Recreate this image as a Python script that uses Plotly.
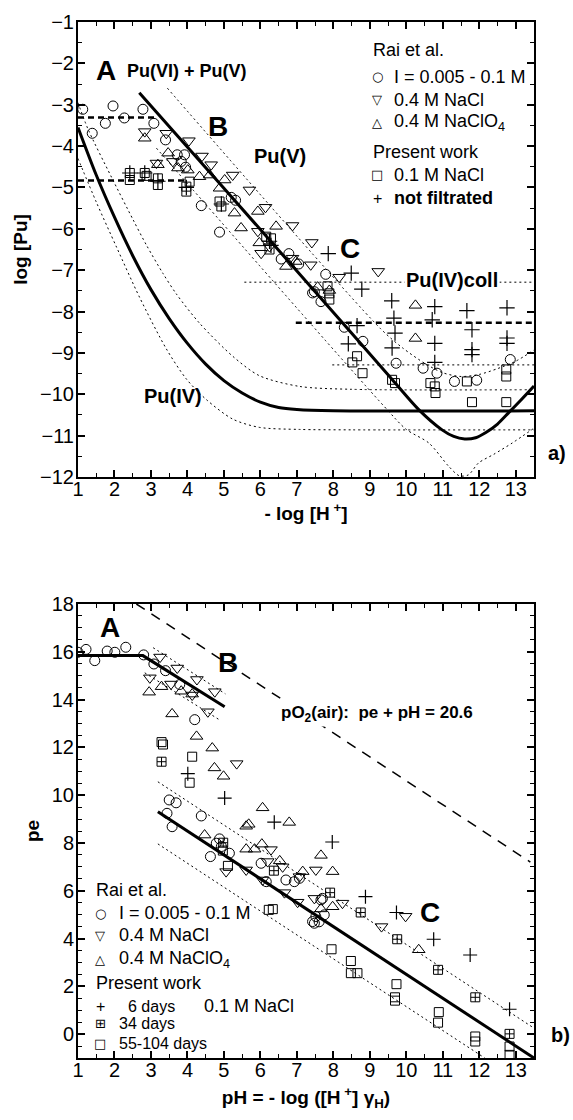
import plotly.graph_objects as go

FONT = "Arial, Liberation Sans, sans-serif"
SYMF = "DejaVu Sans"

# ---------------- panel a) : log[Pu] vs -log[H+] ----------------
a_circ_x = [1.13, 1.39, 1.75, 1.96, 2.27, 2.78, 3.08, 3.40, 3.72, 3.92, 3.83, 3.95, 4.38, 4.88, 5.20, 5.32,
            6.57, 6.78, 7.05, 7.43, 7.48, 7.66, 7.79, 8.30, 8.81, 9.72, 10.46, 10.84, 11.32, 11.93, 12.85]
a_circ_y = [-3.11, -3.69, -3.45, -3.03, -3.32, -3.11, -3.45, -3.85, -4.21, -4.21, -4.37, -4.51, -5.44, -6.08, -5.24, -5.31,
            -6.73, -6.60, -6.85, -7.55, -7.52, -7.76, -7.10, -8.38, -8.72, -9.25, -9.37, -9.49, -9.69, -9.66, -9.16]

a_tdn_x = [2.83, 3.15, 3.42, 3.60, 4.04, 4.40, 4.65, 5.24, 5.70, 5.93, 6.02, 6.14, 6.25, 6.88, 6.88, 7.41, 7.38, 8.16, 9.23]
a_tdn_y = [-3.65, -4.41, -3.69, -4.37, -3.87, -4.24, -4.45, -4.70, -5.06, -6.06, -6.59, -5.48, -6.43, -5.92, -6.71, -6.33, -6.87, -7.17, -7.03]

a_tup_x = [2.83, 3.19, 3.47, 3.74, 4.01, 4.33, 4.61, 4.88, 5.02, 5.29, 5.47, 5.93, 5.97, 6.43, 6.70, 6.97, 7.57, 7.89, 10.25, 10.25]
a_tup_y = [-3.81, -4.45, -4.17, -4.53, -4.58, -4.74, -4.70, -5.02, -4.82, -5.62, -5.98, -5.58, -6.34, -5.94, -6.91, -6.79, -7.41, -7.49, -7.85, -8.65]

a_sq_x = [2.42, 2.42, 2.83, 2.88, 3.19, 3.19, 3.97, 3.97, 4.06, 4.88, 4.93, 6.16, 6.29, 6.25, 7.84, 7.89, 7.89,
          8.52, 8.65, 8.80, 9.61, 9.69, 10.66, 10.78, 10.80, 11.66, 11.80, 12.74, 12.74, 12.74]
a_sq_y = [-4.65, -4.82, -4.65, -4.72, -4.78, -4.94, -4.98, -5.10, -4.86, -5.34, -5.46, -6.19, -6.23, -6.50, -7.39, -7.56, -7.71,
          -9.23, -9.08, -9.49, -9.65, -9.73, -9.73, -9.81, -9.97, -9.69, -10.19, -9.40, -9.57, -10.19]

a_plus_x = [2.42, 2.83, 3.19, 3.97, 4.93, 6.25, 6.29, 7.86, 8.49, 8.78, 8.41, 8.65, 9.60, 9.66, 9.69, 9.61,
            10.71, 10.78, 10.78, 10.78, 11.66, 11.80, 11.80, 11.80, 12.76, 12.76, 12.76]
a_plus_y = [-4.65, -4.65, -4.85, -5.00, -5.40, -6.30, -6.40, -6.60, -7.07, -7.46, -8.78, -8.34, -7.74, -8.16, -8.52, -8.88,
            -8.20, -7.88, -8.77, -9.23, -7.98, -8.44, -8.92, -9.04, -7.91, -8.64, -8.77]

# model curves
a_piv_x = [1.0, 1.5, 2.0, 2.5, 3.0, 3.5, 4.0, 4.5, 5.0, 5.5, 6.0, 6.5, 7.0, 8.0, 13.5]
a_piv_y = [-3.55, -4.70, -5.72, -6.65, -7.47, -8.17, -8.77, -9.27, -9.67, -9.97, -10.19, -10.32, -10.37, -10.40, -10.40]
a_pivu_x = [1.0, 1.28, 1.9, 2.51, 2.88, 3.33, 3.70, 4.33, 5.24, 5.97, 7.07, 8.5, 13.5]
a_pivu_y = [-2.95, -3.60, -4.72, -5.78, -6.40, -7.08, -7.58, -8.28, -9.08, -9.55, -9.81, -9.88, -9.89]
a_pivl_x = [1.0, 1.5, 2.06, 2.69, 3.42, 3.97, 4.52, 5.24, 5.97, 7.07, 8.5, 13.5]
a_pivl_y = [-4.30, -5.35, -6.45, -7.66, -8.90, -9.63, -10.13, -10.60, -10.80, -10.85, -10.86, -10.86]

a_pv_x = [2.68, 5.0, 7.7, 9.6, 10.34, 10.98, 11.3, 11.6, 11.9, 12.17, 12.5, 12.8, 13.13, 13.5]
a_pv_y = [-2.71, -5.02, -7.72, -9.63, -10.37, -10.86, -11.02, -11.08, -11.05, -10.93, -10.72, -10.45, -10.15, -9.80]
a_pvu_x = [3.45, 9.3, 9.9, 10.5, 11.0, 11.5, 12.0, 12.5, 13.0, 13.5]
a_pvu_y = [-2.60, -8.42, -8.88, -9.25, -9.48, -9.57, -9.52, -9.38, -9.20, -8.93]
a_pvl_x = [3.15, 9.4, 10.0, 10.62, 11.16, 11.45, 11.7, 11.98, 12.4, 12.9, 13.5]
a_pvl_y = [-4.05, -10.30, -10.85, -11.18, -11.74, -11.97, -11.95, -11.66, -11.45, -11.18, -10.82]

# horizontal levels: (x_start, x_end, level)
a_hthick = [(1.0, 3.15, -3.31), (1.0, 3.95, -4.83), (6.97, 13.5, -8.27)]
a_hthin = [(5.56, 13.5, -7.29), (7.97, 13.5, -9.29)]

# ---------------- panel b) : pe vs pH ----------------
b_circ_x = [1.00, 1.22, 1.46, 1.80, 2.01, 2.31, 2.80, 3.08, 3.40, 3.79, 4.20, 3.44, 3.50, 3.58, 3.69, 4.38, 4.63,
            4.79, 4.88, 4.93, 5.15, 6.02, 6.16, 6.70, 6.93, 7.07, 7.43, 7.48, 7.52, 7.61, 7.66, 7.75, 7.70]
b_circ_y = [15.98, 16.10, 15.63, 16.03, 15.98, 16.19, 15.87, 15.49, 15.21, 14.63, 13.16, 9.24, 9.80, 8.68, 9.68, 9.13, 7.43,
            7.99, 8.17, 7.85, 7.57, 7.15, 6.38, 6.45, 6.38, 6.52, 4.71, 4.64, 4.92, 4.70, 5.62, 4.99, 5.68]

b_tdn_x = [2.97, 3.25, 3.55, 3.72, 4.13, 4.26, 4.56, 4.75, 5.35, 5.06, 5.61, 6.06, 6.20, 6.29, 6.61, 6.66,
           7.02, 7.07, 7.48, 7.52, 8.25, 9.32, 9.98]
b_tdn_y = [14.91, 15.78, 14.65, 15.32, 14.19, 14.84, 13.49, 14.33, 11.32, 6.80, 6.87, 6.45, 7.22, 7.72, 7.00, 5.92,
           5.52, 6.59, 5.68, 6.87, 5.48, 4.50, 4.93]

b_tup_x = [2.95, 3.29, 3.58, 3.83, 4.13, 4.25, 4.68, 4.74, 4.99, 6.06, 6.79, 4.47, 5.61, 5.68, 5.61, 5.84,
           6.04, 6.53, 7.16, 7.66, 7.98, 7.66, 7.98, 10.34]
b_tup_y = [14.31, 14.54, 13.40, 14.35, 14.23, 12.46, 11.97, 11.14, 10.79, 9.47, 8.86, 8.33, 8.70, 8.78, 7.74, 7.74,
           7.95, 7.25, 6.80, 7.48, 6.80, 5.24, 5.33, 3.53]

b_d6_x = [4.01, 5.02, 6.38, 7.97, 8.88, 9.73, 10.75, 11.75, 12.83]
b_d6_y = [10.90, 9.88, 8.87, 8.04, 5.75, 5.09, 3.97, 3.31, 1.04]

b_d34_x = [3.29, 4.98, 6.37, 7.91, 8.75, 9.75, 10.87, 11.89, 12.83]
b_d34_y = [11.40, 8.01, 6.84, 5.92, 5.09, 3.97, 2.69, 1.54, 0.01]

b_d55_x = [3.29, 3.33, 4.13, 4.06, 4.97, 5.11, 6.23, 6.34, 7.95, 8.48, 8.48, 8.66, 9.73, 9.69, 9.69,
           10.89, 10.87, 11.89, 11.89, 12.83, 12.83]
b_d55_y = [12.22, 12.12, 11.61, 10.52, 7.68, 7.04, 5.20, 5.23, 3.55, 3.06, 2.55, 2.55, 2.09, 1.54, 1.40,
           0.92, 0.48, -0.10, -0.31, -0.52, -0.87]

b_ab_x = [1.0, 2.78, 5.02]
b_ab_y = [15.84, 15.84, 13.70]
b_bu_x = [3.06, 5.04]
b_bu_y = [16.17, 14.24]
b_bl_x = [2.83, 4.88]
b_bl_y = [15.12, 13.15]
b_o2_x = [2.6, 13.4]
b_o2_y = [18.0, 7.2]
b_c_x = [3.19, 13.5]
b_c_y = [9.31, -1.00]
b_cu_x = [3.19, 13.5]
b_cu_y = [10.56, 0.25]
b_cl_x = [3.19, 12.15]
b_cl_y = [7.96, -1.00]

# ---------------- figure ----------------
fig = go.Figure()
BLK = "black"


def pts(x, y, sym, size, ax, lw=1.0):
    fig.add_trace(go.Scatter(x=x, y=y, mode="markers", xaxis=ax[0], yaxis=ax[1], showlegend=False,
                             marker=dict(symbol=sym, size=size, color=BLK, line=dict(color=BLK, width=lw)),
                             cliponaxis=True))


def curve(x, y, ax, width, dash="solid", spline=False):
    fig.add_trace(go.Scatter(x=x, y=y, mode="lines", xaxis=ax[0], yaxis=ax[1], showlegend=False,
                             line=dict(color=BLK, width=width, dash=dash,
                                       shape="spline" if spline else "linear", smoothing=0.8)))


TOP = ("x", "y")
BOT = ("x2", "y2")
THIN = "2px,3px"

# panel a curves
curve(a_piv_x, a_piv_y, TOP, 3, spline=True)
curve(a_pivu_x, a_pivu_y, TOP, 1, THIN, spline=True)
curve(a_pivl_x, a_pivl_y, TOP, 1, THIN, spline=True)
curve(a_pv_x, a_pv_y, TOP, 3, spline=True)
curve(a_pvu_x, a_pvu_y, TOP, 1, THIN, spline=True)
curve(a_pvl_x, a_pvl_y, TOP, 1, THIN, spline=True)
for x0, x1, lv in a_hthick:
    curve([x0, x1], [lv, lv], TOP, 2.5, "6px,4px")
for x0, x1, lv in a_hthin:
    curve([x0, x1], [lv, lv], TOP, 1, THIN)

pts(a_circ_x, a_circ_y, "circle-open", 10, TOP)
pts(a_tdn_x, a_tdn_y, "triangle-down-open", 11, TOP)
pts(a_tup_x, a_tup_y, "triangle-up-open", 11, TOP)
pts(a_sq_x, a_sq_y, "square-open", 9, TOP)
pts(a_plus_x, a_plus_y, "cross-thin-open", 11, TOP, 1.2)

# panel b curves
curve(b_ab_x, b_ab_y, BOT, 3)
curve(b_bu_x, b_bu_y, BOT, 1, THIN)
curve(b_bl_x, b_bl_y, BOT, 1, THIN)
curve(b_o2_x, b_o2_y, BOT, 1.5, "10px,8px")
curve(b_c_x, b_c_y, BOT, 3)
curve(b_cu_x, b_cu_y, BOT, 1, THIN)
curve(b_cl_x, b_cl_y, BOT, 1, THIN)

pts(b_circ_x, b_circ_y, "circle-open", 10, BOT)
pts(b_tdn_x, b_tdn_y, "triangle-down-open", 11, BOT)
pts(b_tup_x, b_tup_y, "triangle-up-open", 11, BOT)
pts(b_d6_x, b_d6_y, "cross-thin-open", 10, BOT, 1.2)
pts(b_d34_x, b_d34_y, "square-cross-open", 9, BOT)
pts(b_d55_x, b_d55_y, "square-open", 9, BOT)

# ---------------- layout ----------------
L, R, T, B = 78, 39, 22, 62
W, H = 573, 1120
PH = H - T - B


def PX(p):
    return (p - L) / (W - L - R)


def PY(p):
    return (H - B - p) / PH


ax_common = dict(showline=True, linewidth=2, linecolor=BLK, mirror="ticks", ticks="inside",
                 ticklen=7, tickwidth=1.5, tickcolor=BLK, showgrid=False, zeroline=False,
                 tickfont=dict(family=FONT, size=20, color=BLK), automargin=False,
                 minor=dict(ticks="inside", ticklen=4, tickwidth=1, tickcolor=BLK, showgrid=False))

xa = dict(ax_common, range=[1, 13.5], tick0=1, dtick=1, ticklabelstandoff=-7)
xa["minor"] = dict(ax_common["minor"], dtick=0.5, tick0=1)
TFONT = dict(family=FONT, size=19, weight="bold")

fig.update_layout(
    width=W, height=H, margin=dict(l=L, r=R, t=T, b=B),
    paper_bgcolor="white", plot_bgcolor="white", showlegend=False,
    font=dict(family=FONT, color=BLK),
    xaxis=dict(xa, domain=[0, 1], anchor="y",
               title=dict(text="- log [H<sup> +</sup>]", standoff=0, font=TFONT)),
    yaxis=dict(ax_common, domain=[1 - (477 - T) / PH, 1], anchor="x", range=[-12, -1], tick0=-12, dtick=1,
               ticklabelstandoff=-2,
               minor=dict(ax_common["minor"], dtick=0.5, tick0=-12),
               title=dict(text="log [Pu]", standoff=7, font=TFONT)),
    xaxis2=dict(xa, domain=[0, 1], anchor="y2",
                title=dict(text="pH = - log ([H<sup> +</sup>] γ<sub>H</sub>)", standoff=11, font=TFONT)),
    yaxis2=dict(ax_common, domain=[0, (H - B - 604) / PH], anchor="x2", range=[-1, 18], tick0=0, dtick=2,
                ticklabelstandoff=-2,
                minor=dict(ax_common["minor"], dtick=0.5, tick0=0),
                title=dict(text="pe", standoff=7, font=TFONT)),
)

anns = []


def txt(text, px, py, size=18, bold=False, xanchor="left", family=FONT, bg=None):
    a = dict(text=text, x=PX(px), y=PY(py), xref="paper", yref="paper", showarrow=False,
             xanchor=xanchor, yanchor="middle",
             font=dict(family=family, size=size, color=BLK, weight="bold" if bold else "normal"))
    if bg:
        a["bgcolor"] = bg
    anns.append(a)


# panel a labels
txt("A", 106, 70, 28, True, "center")
txt("Pu(VI) + Pu(V)", 187, 71, 18, True, "center")
txt("B", 218, 127, 28, True, "center")
txt("Pu(V)", 280, 156, 20, True, "center")
txt("C", 350, 249, 28, True, "center")
txt("Pu(IV)coll", 452, 280, 20, True, "center", bg="white")
txt("Pu(IV)", 173, 396, 20, True, "center")
txt("a)", 557, 453, 20, True, "center")

# panel a legend
txt("Rai et al.", 371, 50, 18)
for sym, lab, py in [("○", "I = 0.005 - 0.1 M", 77), ("▽", "0.4 M NaCl", 100),
                     ("△", "0.4 M NaClO<sub>4</sub>", 122)]:
    txt(sym, 377, py, 13, False, "center", SYMF)
    txt(lab, 392, py, 18)
txt("Present work", 371, 152, 18)
txt("□", 377, 175, 13, False, "center", SYMF)
txt("0.1 M NaCl", 392, 175, 18)
txt("+", 377, 198, 16, False, "center")
txt("not filtrated", 392, 198, 18, True)

# panel b labels
txt("A", 110, 627, 28, True, "center")
txt("B", 228, 662, 28, True, "center")
txt("C", 430, 912, 28, True, "center")
txt("pO<sub>2</sub>(air): \u00a0pe + pH = 20.6", 377, 714, 17, True, "center", bg="white")
txt("b)", 560, 1035, 20, True, "center")

# panel b legend
txt("Rai et al.", 94, 890, 18)
for sym, lab, py in [("○", "I = 0.005 - 0.1 M", 913), ("▽", "0.4 M NaCl", 935),
                     ("△", "0.4 M NaClO<sub>4</sub>", 959)]:
    txt(sym, 100, py, 13, False, "center", SYMF)
    txt(lab, 117, py, 18)
txt("Present work", 94, 983, 18)
txt("+", 100, 1006, 16, False, "center")
txt("6 days", 126, 1006, 16)
txt("0.1 M NaCl", 202, 1006, 18)
txt("⊞", 100, 1023, 13, False, "center", SYMF)
txt("34 days", 117, 1023, 16)
txt("□", 100, 1043, 13, False, "center", SYMF)
txt("55-104 days", 117, 1043, 16)

fig.update_layout(annotations=anns)
fig.write_html("out.html")
